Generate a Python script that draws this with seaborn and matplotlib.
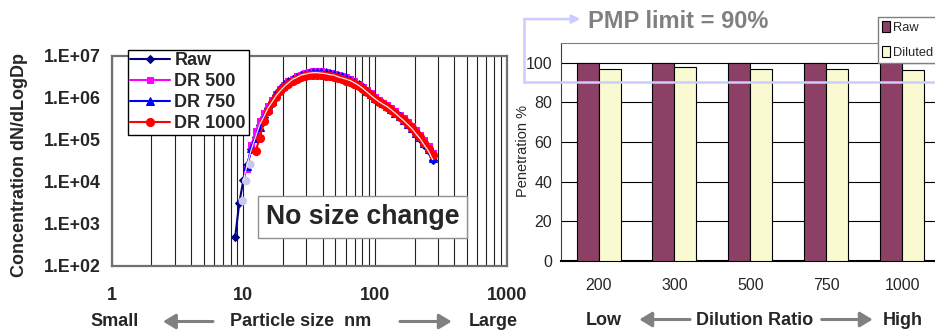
import numpy as np
import pandas as pd
import matplotlib
matplotlib.use("Agg")
import matplotlib.pyplot as plt
import matplotlib.ticker as mticker
from matplotlib import font_manager
import seaborn as sns

# --- 1. DATOS: distribucion de tamano de particulas ---
sizes = [8.66, 9.31, 10.0, 10.7, 11.5, 12.4, 13.3, 14.3, 15.4, 16.5,
         17.8, 19.1, 20.5, 22.0, 23.7, 25.5, 27.4, 29.4, 31.6, 34.0,
         36.5, 39.2, 42.2, 45.3, 48.7, 52.3, 56.2, 60.4, 64.9, 69.8,
         75.0, 80.6, 86.6, 93.1, 100, 107, 115, 124, 133, 143,
         154, 165, 178, 191, 205, 221, 237, 255, 274]

raw = [4.8e2, 3.2e3, 1.1e4, 2.6e4, 6.0e4, 1.2e5, 2.3e5, 3.6e5, 5.8e5, 8.0e5,
       1.15e6, 1.5e6, 1.9e6, 2.3e6, 2.8e6, 3.1e6, 3.5e6, 3.7e6, 3.9e6, 4.0e6,
       4.0e6, 3.9e6, 3.8e6, 3.6e6, 3.5e6, 3.2e6, 3.0e6, 2.8e6, 2.6e6, 2.3e6,
       2.0e6, 1.7e6, 1.4e6, 1.15e6, 9.6e5, 8.2e5, 7.1e5, 6.2e5, 5.2e5, 4.3e5,
       3.5e5, 2.9e5, 2.3e5, 1.85e5, 1.4e5, 1.05e5, 7.5e4, 5.4e4, 3.4e4]

dr500 = [2.0e4, 7.5e4, 1.6e5, 2.8e5, 4.4e5, 6.5e5, 9.0e5, 1.25e6, 1.6e6, 2.0e6,
         2.5e6, 2.9e6, 3.3e6, 3.6e6, 3.9e6, 4.1e6, 4.3e6, 4.4e6, 4.3e6, 4.2e6,
         4.0e6, 3.8e6, 3.5e6, 3.3e6, 3.1e6, 2.8e6, 2.5e6, 2.2e6, 1.85e6, 1.55e6,
         1.3e6, 1.05e6, 9.0e5, 7.8e5, 6.8e5, 5.8e5, 4.8e5, 4.0e5, 3.3e5, 2.7e5,
         2.2e5, 1.75e5, 1.35e5, 1.0e5, 7.2e4, 5.0e4]

dr750 = [2.4e4, 6.5e4, 1.1e5, 2.0e5, 3.5e5, 5.5e5, 8.5e5, 1.3e6, 1.7e6, 2.1e6,
         2.5e6, 2.9e6, 3.2e6, 3.5e6, 3.8e6, 4.0e6, 4.1e6, 4.2e6, 4.2e6, 4.1e6,
         3.9e6, 3.7e6, 3.5e6, 3.3e6, 3.0e6, 2.7e6, 2.4e6, 2.1e6, 1.8e6, 1.5e6,
         1.25e6, 1.02e6, 8.6e5, 7.4e5, 6.4e5, 5.4e5, 4.5e5, 3.7e5, 3.0e5, 2.4e5,
         1.9e5, 1.5e5, 1.15e5, 8.5e4, 6.0e4, 3.8e4]

dr1000 = [5.5e4, 1.1e5, 2.8e5, 4.8e5, 7.6e5, 1.05e6, 1.45e6, 1.8e6, 2.2e6, 2.6e6,
          2.9e6, 3.2e6, 3.4e6, 3.5e6, 3.6e6, 3.6e6, 3.5e6, 3.4e6, 3.3e6, 3.2e6,
          3.0e6, 2.8e6, 2.6e6, 2.4e6, 2.15e6, 1.9e6, 1.6e6, 1.4e6, 1.15e6, 9.6e5,
          8.2e5, 7.1e5, 6.1e5, 5.2e5, 4.4e5, 3.6e5, 3.0e5, 2.4e5, 1.95e5, 1.5e5,
          1.15e5, 8.5e4, 6.2e4, 4.5e4]

# puntos claros al inicio de la curva
pale_sizes = [9.9, 10.5, 11.3]
pale_vals = [3.5e3, 1.05e4, 2.6e4]

# --- DATOS: penetracion ---
ratios = ["200", "300", "500", "750", "1000"]
raw_pen = [100, 100, 100, 100, 100]
diluted_pen = [96.7, 98.0, 96.7, 96.7, 96.0]

# --- 2. ESTILO ---
sns.set_style("white")
plt.rcParams['font.family'] = ['Liberation Sans', 'DejaVu Sans']


def existe(fam):
    try:
        font_manager.findfont(fam, fallback_to_default=False)
        return True
    except ValueError:
        return False


narrow = [f for f in ['Liberation Sans Narrow', 'DejaVu Sans Condensed',
                      'Noto Sans Condensed'] if existe(f)]
hay_narrow = len(narrow) > 0
narrow = narrow + ['Liberation Sans', 'DejaVu Sans']

W, H = 935, 331
fig = plt.figure(figsize=(W / 100, H / 100), dpi=100)


def fx(px):
    return px / W


def fy(py):
    return 1 - py / H


# --- 3. GRAFICO IZQUIERDO ---
ax1 = fig.add_axes([fx(111.7), fy(266), fx(395), 210 / H])

series = [
    ("Raw", raw, "#000080", "D", 4.2),
    ("DR 500", dr500, "#FF00FF", "s", 5.0),
    ("DR 750", dr750, "#0000FF", "^", 5.2),
    ("DR 1000", dr1000, "#FF0000", "o", 5.8),
]
for nombre, vals, color, mk, ms in series:
    d = pd.DataFrame({"size": sizes[-len(vals):], "conc": vals})
    sns.lineplot(data=d, x="size", y="conc", color=color, marker=mk,
                 markersize=ms, markeredgecolor=color, linewidth=1.5,
                 label=nombre, sort=False, ax=ax1)

sns.scatterplot(x=pale_sizes, y=pale_vals, color="#C8C8F0", s=38,
                edgecolor="none", zorder=5, ax=ax1)
sns.lineplot(x=sizes[2:], y=raw[2:], color="#F6E6F6", linewidth=0.9,
             sort=False, zorder=6, ax=ax1)

ax1.set_xscale("log")
ax1.set_yscale("log")
ax1.set_xlim(1, 1000)
ax1.set_ylim(1e2, 1e7)
ax1.xaxis.set_major_locator(mticker.FixedLocator([1, 10, 100, 1000]))
ax1.xaxis.set_minor_locator(mticker.LogLocator(base=10, subs=np.arange(2, 10)))
ax1.xaxis.set_minor_formatter(mticker.NullFormatter())
ax1.xaxis.set_major_formatter(mticker.FuncFormatter(lambda v, p: f"{v:g}"))
ax1.yaxis.set_major_locator(mticker.FixedLocator([1e2, 1e3, 1e4, 1e5, 1e6, 1e7]))
ax1.yaxis.set_minor_locator(mticker.NullLocator())
ax1.yaxis.set_major_formatter(mticker.FuncFormatter(lambda v, p: f"1.E+{int(round(np.log10(v))):02d}"))
ax1.tick_params(axis="both", which="both", length=0)
ax1.tick_params(axis="x", pad=15, labelsize=13)
ax1.tick_params(axis="y", pad=8, labelsize=12.8)
for lab in ax1.get_xticklabels() + ax1.get_yticklabels():
    lab.set_fontweight("bold")
ax1.grid(True, axis="x", which="both", color="#222222", linewidth=0.8)
ax1.set_axisbelow(True)
for sp in ax1.spines.values():
    sp.set_color("#707070")
    sp.set_linewidth(1.6)
ax1.set_xlabel("")
ax1.set_ylabel("Concentration dN/dLogDp", fontsize=13, fontweight="bold")
ax1.yaxis.set_label_coords(-0.212, 0.48)

leg1 = ax1.legend(loc="upper left", bbox_to_anchor=(0.04, 1.03), frameon=True,
                  fancybox=False, framealpha=1, edgecolor="black",
                  prop={"weight": "bold", "size": 13}, borderpad=0.15,
                  labelspacing=0.22, handlelength=2.2, handletextpad=0.25,
                  borderaxespad=0)
leg1.get_frame().set_linewidth(1.0)

ax1.text(0.635, 0.233, "No size change", transform=ax1.transAxes, ha="center",
         va="center", fontsize=19.2, fontweight="bold", zorder=10,
         bbox=dict(boxstyle="square,pad=0.3", facecolor="white",
                   edgecolor="#909090", linewidth=1))

# --- 4. GRAFICO DERECHO ---
ax2 = fig.add_axes([fx(560.7), fy(261), fx(379.3), 218.3 / H])
df_pen = pd.DataFrame({
    "ratio": ratios * 2,
    "type": ["Raw"] * len(ratios) + ["Diluted"] * len(ratios),
    "pen": raw_pen + diluted_pen,
})
sns.barplot(data=df_pen, x="ratio", y="pen", hue="type",
            palette=["#993366", "#FFFFCC"], width=0.58, edgecolor="black",
            linewidth=0.8, errorbar=None, ax=ax2, zorder=3)
ax2.set_xlim(-0.5, 4.5)
ax2.set_ylim(0, 110)
ax2.set_yticks([0, 20, 40, 60, 80, 100])
ax2.set_xticks(range(len(ratios)))
ax2.set_xticklabels(ratios)
ax2.set_xticks(np.arange(0.5, len(ratios) - 0.5, 1), minor=True)
tick_size = 13 if hay_narrow else 11.5
ax2.tick_params(axis="x", which="major", length=0, pad=12, labelsize=tick_size)
ax2.tick_params(axis="x", which="minor", direction="in", length=4, width=1, color="black")
ax2.tick_params(axis="y", length=0, pad=6, labelsize=tick_size)
for lab in ax2.get_xticklabels() + ax2.get_yticklabels():
    lab.set_fontfamily(narrow)
ax2.yaxis.grid(True, color="black", linewidth=0.8)
ax2.set_axisbelow(True)
ax2.spines["top"].set_color("#808080")
ax2.spines["left"].set_color("#404040")
ax2.spines["bottom"].set_color("black")
ax2.spines["bottom"].set_linewidth(1.5)
ax2.set_xlabel("")
ax2.set_ylabel("Penetration %", fontsize=10.5, family=narrow)
ax2.yaxis.set_label_coords(-0.081, 0.504)

h, l = ax2.get_legend_handles_labels()
leg2 = ax2.legend(h, l, loc="upper left", bbox_to_anchor=(fx(878.3), fy(17.3)),
                  bbox_transform=fig.transFigure, frameon=True, fancybox=False,
                  framealpha=1, edgecolor="#808080",
                  prop={"family": narrow, "size": 13 if hay_narrow else 9.3},
                  borderpad=0.3, labelspacing=0.95, handlelength=0.6,
                  handleheight=0.9, handletextpad=0.25, borderaxespad=0)
leg2.set_zorder(20)

# linea del limite PMP (90 %)
lim_col = "#CCCCFF"
ax2.plot([4.6, -0.98, -0.98], [90, 90, 121.9], color=lim_col, linewidth=1.8,
         clip_on=False, zorder=15, solid_joinstyle="miter")
ax2.annotate("", xy=(-0.24, 121.9), xytext=(-0.98, 121.9), annotation_clip=False,
             arrowprops=dict(arrowstyle="-|>,head_length=0.5,head_width=0.25",
                             color=lim_col, linewidth=1.8, shrinkA=0, shrinkB=0),
             zorder=15)
ax2.text(1.05, 117.4, "PMP limit = 90%", ha="center", va="baseline", fontsize=17,
         fontweight="bold", color="#808080", clip_on=False)


# --- 5. ETIQUETAS INFERIORES CON FLECHAS ---
def flecha(x0, x1, y):
    fig.add_artist(matplotlib.patches.FancyArrowPatch(
        (fx(x0), fy(y)), (fx(x1), fy(y)), transform=fig.transFigure,
        arrowstyle="-|>,head_length=5,head_width=3", mutation_scale=1.5,
        color="#808080", linewidth=2.2, shrinkA=0, shrinkB=0))


etiq = dict(ha="center", va="baseline", fontsize=13, fontweight="bold")
fig.text(fx(115), fy(326), "Small", **etiq)
fig.text(fx(300.5), fy(326), "Particle size  nm", **etiq)
fig.text(fx(493), fy(326), "Large", **etiq)
flecha(213, 163, 321.5)
flecha(400, 451.7, 321.5)

fig.text(fx(603.3), fy(325), "Low", **etiq)
fig.text(fx(754.7), fy(325), "Dilution Ratio", **etiq)
fig.text(fx(902.7), fy(325), "High", **etiq)
flecha(690, 639.3, 319.5)
flecha(821.7, 872.7, 319.5)

fig.savefig("out.png", dpi=100)
